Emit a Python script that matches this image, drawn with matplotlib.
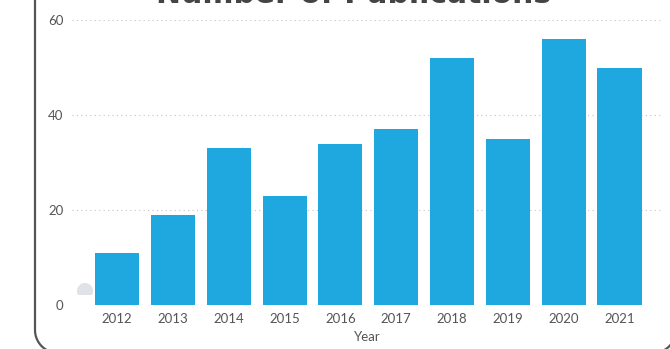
import matplotlib
matplotlib.use("Agg")
import matplotlib.pyplot as plt
from matplotlib.patches import Polygon
from matplotlib.lines import Line2D
import numpy as np

years = ["2012", "2013", "2014", "2015", "2016", "2017", "2018", "2019", "2020", "2021"]
publications = [11, 19, 33, 23, 34, 37, 52, 35, 56, 50]
y_ticks = [0, 20, 40, 60]

W, H = 670, 349
fig = plt.figure(figsize=(W / 100, H / 100), dpi=100)
fig.patch.set_facecolor("white")

def fx(px):
    return px / W

def fy(py):
    return 1 - py / H

# rounded card border (only left side and bottom corners visible)
left, right, bottom, rad = 35, 676, 353, 23
bx, by = [left, left], [-20, bottom - rad]
for a in np.linspace(np.pi, np.pi / 2, 20):
    bx.append(left + rad + rad * np.cos(a))
    by.append(bottom - rad + rad * np.sin(a))
for a in np.linspace(np.pi / 2, 0, 20):
    bx.append(right - rad + rad * np.cos(a))
    by.append(bottom - rad + rad * np.sin(a))
bx += [right, right]
by += [bottom - rad, -20]
fig.lines.append(Line2D([fx(v) for v in bx], [fy(v) for v in by],
                        transform=fig.transFigure, color="#555555", linewidth=1.6,
                        solid_capstyle="round"))

ax = fig.add_axes([fx(72), fy(305), fx(663) - fx(72), fy(20) - fy(305)])
x = np.arange(len(years))
ax.bar(x, publications, width=0.79, color="#1fa8e0", zorder=3)
ax.set_xlim(-0.81, 9.78)
ax.set_ylim(0, 60)
ax.set_yticks(y_ticks)
ax.set_xticks(x)
ax.set_xticklabels(years)
for s in ax.spines.values():
    s.set_visible(False)
ax.grid(axis="y", linestyle=(0, (1, 3)), linewidth=0.8, color="#c4c4c4", zorder=0)
ax.tick_params(axis="both", length=0, labelsize=9.5, labelcolor="#555555")
ax.tick_params(axis="y", pad=6)
ax.tick_params(axis="x", pad=6)
for lab in ax.get_xticklabels() + ax.get_yticklabels():
    lab.set_family("Lato")
ax.set_xlabel("Year", fontsize=9.5, color="#555555", family="Lato", labelpad=4)

# cropped title (cut off at the top, as in the reference)
fig.text(fx(354), fy(3), "Number of Publications", ha="center", va="baseline",
         fontsize=21.5, fontweight="bold", color="#444444", family="DejaVu Sans")

# small grey dome marker
r = 8
cx, cy = 85, 291
ang = np.arcsin(4 / 8)
pts = [(fx(cx + r * np.cos(a)), fy(cy - r * np.sin(a))) for a in np.linspace(-ang, np.pi + ang, 40)]
fig.patches.append(Polygon(pts, closed=True, transform=fig.transFigure,
                           facecolor="#dfe2e6", edgecolor="none"))

fig.savefig("out.png", dpi=100)
